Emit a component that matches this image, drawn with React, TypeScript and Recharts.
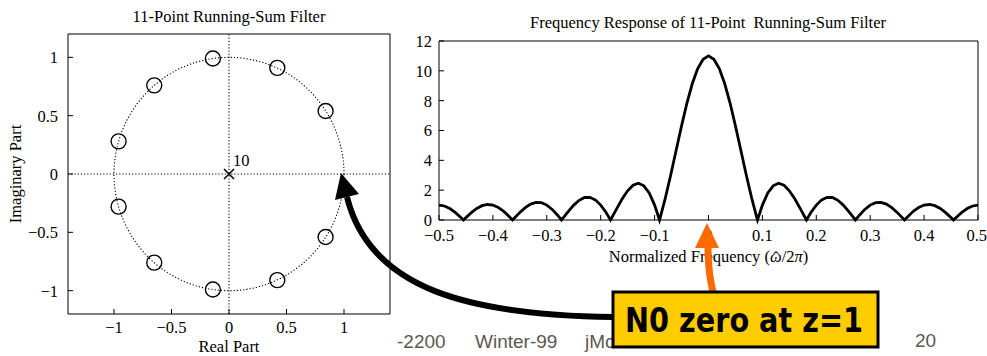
import * as R from "recharts";
import {
  Line,
  LineChart,
  ReferenceLine,
  Scatter,
  ScatterChart,
  XAxis,
  YAxis,
} from "recharts";

// zeros of the 11-point running sum
const zeroRe = [0.84, 0.42, -0.14, -0.65, -0.96, -0.96, -0.65, -0.14, 0.42, 0.84];
const zeroIm = [0.54, 0.91, 0.99, 0.76, 0.28, -0.28, -0.76, -0.99, -0.91, -0.54];
const poleRe = [0];
const poleIm = [0];
const poleOrder = [10];

const zTicks = [-1, -0.5, 0, 0.5, 1];
const X_DOMAIN: [number, number] = [-1.4, 1.4];
const Y_DOMAIN: [number, number] = [-1.2, 1.2];

// magnitude response |H(w)|
const freq = [
  -0.5, -0.49, -0.48, -0.47, -0.46, -0.4545, -0.45, -0.44, -0.43, -0.42, -0.41,
  -0.4, -0.39, -0.38, -0.37, -0.3636, -0.36, -0.35, -0.34, -0.33, -0.32, -0.31,
  -0.3, -0.29, -0.28, -0.2727, -0.27, -0.26, -0.25, -0.24, -0.23, -0.22, -0.21,
  -0.2, -0.19, -0.1818, -0.18, -0.17, -0.16, -0.15, -0.14, -0.13, -0.12, -0.11,
  -0.1, -0.0909, -0.09, -0.08, -0.07, -0.06, -0.05, -0.04, -0.03, -0.02, -0.01,
  0,
  0.01, 0.02, 0.03, 0.04, 0.05, 0.06, 0.07, 0.08, 0.09, 0.0909, 0.1,
  0.11, 0.12, 0.13, 0.14, 0.15, 0.16, 0.17, 0.18, 0.1818, 0.19, 0.2,
  0.21, 0.22, 0.23, 0.24, 0.25, 0.26, 0.27, 0.2727, 0.28, 0.29, 0.3,
  0.31, 0.32, 0.33, 0.34, 0.35, 0.36, 0.3636, 0.37, 0.38, 0.39, 0.4,
  0.41, 0.42, 0.43, 0.44, 0.45, 0.4545, 0.46, 0.47, 0.48, 0.49, 0.5,
];
const magnitude = [
  1.0, 0.94, 0.77, 0.51, 0.19, 0, 0.16, 0.49, 0.77, 0.96, 1.04,
  1.0, 0.84, 0.58, 0.24, 0, 0.14, 0.51, 0.83, 1.07, 1.18, 1.16,
  1.0, 0.71, 0.32, 0, 0.13, 0.58, 1.0, 1.32, 1.51, 1.52, 1.35,
  1.0, 0.5, 0, 0.12, 0.78, 1.42, 1.96, 2.33, 2.46, 2.29, 1.81,
  1.0, 0, 0.11, 1.48, 3.03, 4.68, 6.31, 7.84, 9.15, 10.15, 10.78,
  11.0,
  10.78, 10.15, 9.15, 7.84, 6.31, 4.68, 3.03, 1.48, 0.11, 0, 1.0,
  1.81, 2.29, 2.46, 2.33, 1.96, 1.42, 0.78, 0.12, 0, 0.5, 1.0,
  1.35, 1.52, 1.51, 1.32, 1.0, 0.58, 0.13, 0, 0.32, 0.71, 1.0,
  1.16, 1.18, 1.07, 0.83, 0.51, 0.14, 0, 0.24, 0.58, 0.84, 1.0,
  1.04, 0.96, 0.77, 0.49, 0.16, 0, 0.19, 0.51, 0.77, 0.94, 1.0,
];
const fTicks = [-0.5, -0.4, -0.3, -0.2, -0.1, 0, 0.1, 0.2, 0.3, 0.4, 0.5];
const magTicks = [0, 2, 4, 6, 8, 10, 12];

const SERIF = "Liberation Serif, Times New Roman, serif";
const tickStyle = { fontSize: 16.5, fill: "#000", fontFamily: SERIF };
const minus = (v: number) => String(v).replace("-", "\u2212");

const zeroRows = zeroRe.map((re, i) => ({ x: re, y: zeroIm[i] }));
const poleRows = poleRe.map((re, i) => ({ x: re, y: poleIm[i], order: poleOrder[i] }));
const respRows = freq.map((f, i) => ({ f, mag: magnitude[i] }));

// dotted unit circle, sized from the plot area and the fixed axis domains
function UnitCircle() {
  const hook = (R as any).usePlotArea;
  const area = hook ? hook() : null;
  if (!area) return null;
  const sx = area.width / (X_DOMAIN[1] - X_DOMAIN[0]);
  const sy = area.height / (Y_DOMAIN[1] - Y_DOMAIN[0]);
  return (
    <ellipse
      cx={area.x + (0 - X_DOMAIN[0]) * sx}
      cy={area.y + (Y_DOMAIN[1] - 0) * sy}
      rx={sx}
      ry={sy}
      fill="none"
      stroke="#000"
      strokeWidth={1.1}
      strokeDasharray="1.2 2"
    />
  );
}

const ZeroMark = (p: any) => (
  <circle cx={p.cx} cy={p.cy} r={7.5} fill="none" stroke="#000" strokeWidth={1.4} />
);

const PoleMark = (p: any) => (
  <g>
    <path
      d={`M${p.cx - 5},${p.cy - 5}L${p.cx + 5},${p.cy + 5}M${p.cx - 5},${p.cy + 5}L${p.cx + 5},${p.cy - 5}`}
      stroke="#000"
      strokeWidth={1.5}
    />
    <text x={p.cx + 4} y={p.cy - 8} fontSize={16.5} fontFamily={SERIF} fill="#000">
      {p.payload.order}
    </text>
  </g>
);

const FreqLabel = (props: any) => {
  const vb = props.viewBox;
  if (!vb) return null;
  return (
    <text
      x={vb.x + vb.width / 2}
      y={vb.y + vb.height - 8}
      textAnchor="middle"
      fontSize={16.5}
      fontFamily={SERIF}
      fill="#000"
    >
      Normalized Frequency (<tspan fontStyle="italic">{"\u03C9"}</tspan>
      <tspan dx={-8.5} dy={1}>{"\u02C6"}</tspan>
      <tspan dx={3} dy={-1}>/2</tspan>
      <tspan fontStyle="italic">{"\u03C0"}</tspan>)
    </text>
  );
};

export default function App() {
  return (
    <div
      style={{
        position: "absolute",
        left: 0,
        top: 0,
        width: 987,
        height: 356,
        background: "#fff",
        overflow: "hidden",
      }}
    >
      <div style={{ position: "absolute", left: 0, top: 0 }}>
        <ScatterChart width={400} height={356} margin={{ top: 30, right: 6, bottom: 0, left: 8 }}>
          <XAxis
            type="number"
            dataKey="x"
            domain={X_DOMAIN}
            ticks={zTicks}
            height={42}
            tickSize={-5}
            tickMargin={12}
            tick={tickStyle}
            tickFormatter={minus}
            stroke="#000"
            allowDataOverflow
            label={{ value: "Real Part", position: "insideBottom", offset: 4, fontSize: 16.5, fill: "#000", fontFamily: SERIF }}
          />
          <XAxis
            xAxisId="top"
            orientation="top"
            type="number"
            domain={X_DOMAIN}
            ticks={zTicks}
            height={4}
            tickSize={-5}
            tick={false}
            stroke="#000"
            allowDataOverflow
          />
          <YAxis
            type="number"
            dataKey="y"
            domain={Y_DOMAIN}
            ticks={zTicks}
            width={60}
            tickSize={-5}
            tickMargin={15}
            tick={tickStyle}
            tickFormatter={minus}
            stroke="#000"
            allowDataOverflow
            label={{
              value: "Imaginary Part",
              angle: -90,
              position: "insideLeft",
              offset: 7,
              style: { textAnchor: "middle" },
              fontSize: 16.5,
              fill: "#000",
              fontFamily: SERIF,
            }}
          />
          <YAxis
            yAxisId="right"
            orientation="right"
            type="number"
            domain={Y_DOMAIN}
            ticks={zTicks}
            width={4}
            tickSize={-5}
            tick={false}
            stroke="#000"
            allowDataOverflow
          />
          <ReferenceLine x={0} stroke="#000" strokeWidth={1.1} strokeDasharray="1.2 2" />
          <ReferenceLine y={0} stroke="#000" strokeWidth={1.1} strokeDasharray="1.2 2" />
          <UnitCircle />
          <Scatter data={zeroRows} shape={ZeroMark} isAnimationActive={false} />
          <Scatter data={poleRows} shape={PoleMark} isAnimationActive={false} />
        </ScatterChart>
      </div>

      <div style={{ position: "absolute", left: 395, top: 0 }}>
        <LineChart width={592} height={275} data={respRows} margin={{ top: 37, right: 5, bottom: 5, left: 0 }}>
          <XAxis
            type="number"
            dataKey="f"
            domain={[-0.5, 0.5]}
            ticks={fTicks}
            height={50}
            tickSize={-5}
            tickMargin={14}
            tick={tickStyle}
            tickFormatter={minus}
            stroke="#000"
            allowDataOverflow
            label={<FreqLabel />}
          />
          <XAxis
            xAxisId="top"
            orientation="top"
            type="number"
            domain={[-0.5, 0.5]}
            ticks={fTicks}
            height={4}
            tickSize={-5}
            tick={false}
            stroke="#000"
            allowDataOverflow
          />
          <YAxis
            type="number"
            domain={[0, 12]}
            ticks={magTicks}
            width={44}
            tickSize={-5}
            tickMargin={12}
            tick={tickStyle}
            stroke="#000"
          />
          <YAxis
            yAxisId="right"
            orientation="right"
            type="number"
            domain={[0, 12]}
            ticks={magTicks}
            width={4}
            tickSize={-5}
            tick={false}
            stroke="#000"
          />
          <Line
            type="linear"
            dataKey="mag"
            stroke="#000"
            strokeWidth={2.8}
            dot={false}
            isAnimationActive={false}
          />
        </LineChart>
      </div>

      <svg
        width={987}
        height={356}
        style={{ position: "absolute", left: 0, top: 0, pointerEvents: "none" }}
      >
        <text x={229} y={22} textAnchor="middle" fontSize={16.5} fontFamily={SERIF} fill="#000">
          11-Point Running-Sum Filter
        </text>
        <text x={708} y={28} textAnchor="middle" fontSize={16.5} fontFamily={SERIF} fill="#000" style={{ whiteSpace: "pre" }}>
          {"Frequency Response of 11-Point  Running-Sum Filter"}
        </text>

        <g fontFamily="Liberation Sans, Arial, sans-serif" fontSize={19} fill="#5d5750">
          <text x={397} y={348}>-2200</text>
          <text x={475} y={348}>Winter-99</text>
          <text x={585} y={348}>jMc</text>
          <text x={915} y={347}>20</text>
        </g>

        <path d="M613,317 C470,315 370,290 347,197" fill="none" stroke="#000" strokeWidth={6} />
        <polygon points="341,173 335,200 359,194" fill="#000" />

        <path d="M713,292 Q708,272 708,246" fill="none" stroke="#ff6a00" strokeWidth={7} />
        <polygon points="707,223 695,248 719,248" fill="#ff6a00" />

        <rect x={613} y={292} width={265} height={55} fill="#ffcc00" stroke="#000" strokeWidth={3} />
        <text
          x={625}
          y={332}
          fontFamily="DejaVu Sans, Verdana, sans-serif"
          fontWeight="bold"
          fontSize={34}
          fill="#000"
          textLength={238}
          lengthAdjust="spacingAndGlyphs"
        >
          N0 zero at z=1
        </text>
      </svg>
    </div>
  );
}
